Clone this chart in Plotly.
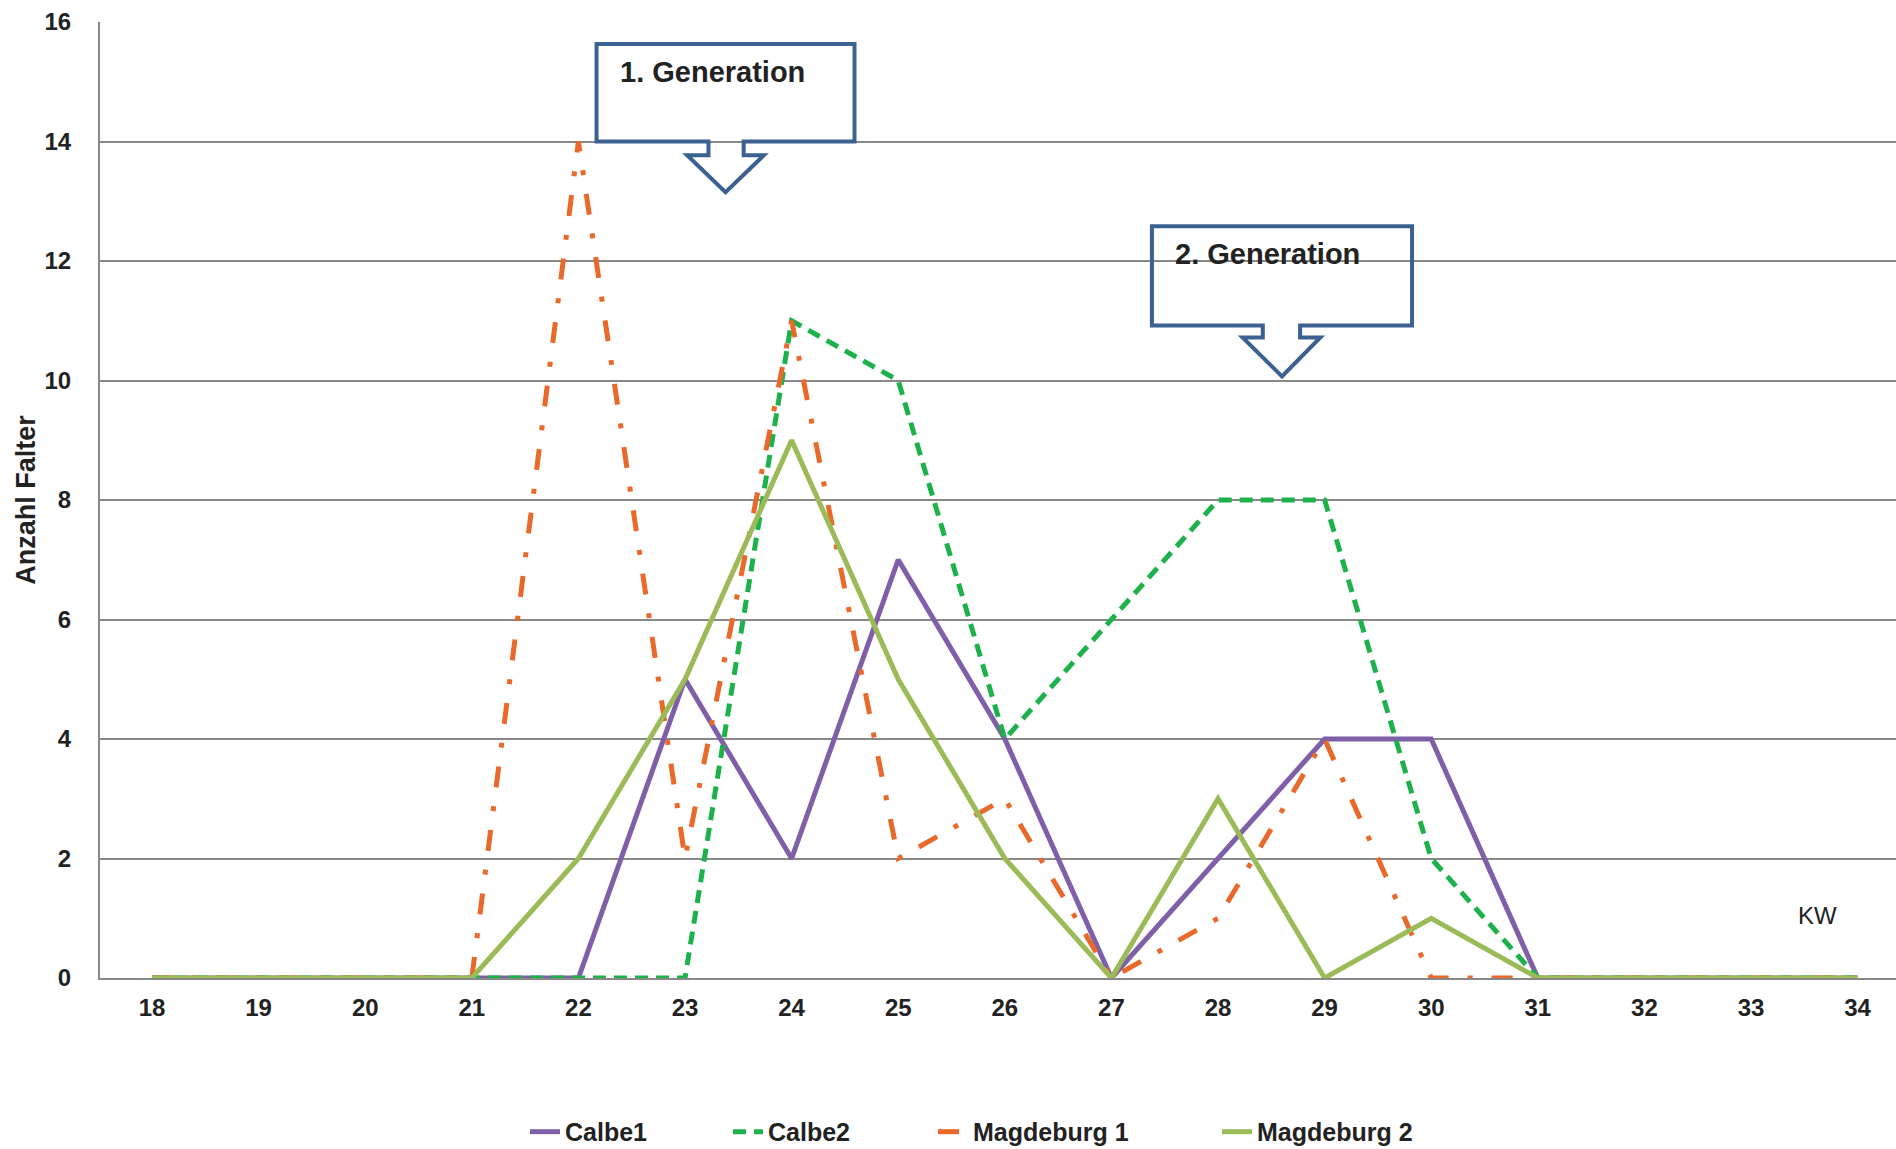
import plotly.graph_objects as go

weeks = list(range(18, 35))
calbe1 = [0, 0, 0, 0, 0, 5, 2, 7, 4, 0, 2, 4, 4, 0, 0, 0, 0]
calbe2 = [0, 0, 0, 0, 0, 0, 11, 10, 4, 6, 8, 8, 2, 0, 0, 0, 0]
magdeburg1 = [0, 0, 0, 0, 14, 2, 11, 2, 3, 0, 1, 4, 0, 0, 0, 0, 0]
magdeburg2 = [0, 0, 0, 0, 2, 5, 9, 5, 2, 0, 3, 0, 1, 0, 0, 0, 0]
y_ticks = [0, 2, 4, 6, 8, 10, 12, 14, 16]

FONT = "Liberation Sans, Arial, sans-serif"

series = [
    ("Calbe1", calbe1, "#7F5FA8", "solid", 158),
    ("Calbe2", calbe2, "#1DB14B", "13px,8px", 160),
    ("Magdeburg 1", magdeburg1, "#E8692A", "21px,19px,5px,19px", 239),
    ("Magdeburg 2", magdeburg2, "#9BBB59", "solid", 160),
]

fig = go.Figure()
for name, vals, color, dash, lw in series:
    fig.add_trace(go.Scatter(
        x=weeks, y=vals, name=name, mode="lines",
        line=dict(color=color, width=5, dash=dash),
        legendwidth=lw,
    ))


def callout(x0, x1, y_top, y_bot, sx0, sx1, sy, hx0, hx1, tipx, tipy):
    pts = [(x0, y_top), (x1, y_top), (x1, y_bot), (sx1, y_bot), (sx1, sy),
           (hx1, sy), (tipx, tipy), (hx0, sy), (sx0, sy), (sx0, y_bot), (x0, y_bot)]
    path = "M " + " L ".join(f"{px},{py}" for px, py in pts) + " Z"
    return dict(type="path", path=path, xref="x", yref="y",
                line=dict(color="#3A6190", width=4), fillcolor="rgba(0,0,0,0)",
                layer="above")


shapes = [
    callout(22.17, 24.59, 15.63, 14.00, 23.22, 23.55, 13.77, 23.02, 23.74, 23.38, 13.15),
    callout(27.38, 29.82, 12.58, 10.92, 28.42, 28.77, 10.72, 28.23, 28.96, 28.60, 10.07),
]

annotations = [
    dict(x=22.37, y=15.16, xref="x", yref="y", text="<b>1. Generation</b>",
         showarrow=False, xanchor="left", yanchor="middle",
         font=dict(family=FONT, size=29, color="#222222")),
    dict(x=27.58, y=12.11, xref="x", yref="y", text="<b>2. Generation</b>",
         showarrow=False, xanchor="left", yanchor="middle",
         font=dict(family=FONT, size=29, color="#222222")),
    dict(x=33.62, y=1.04, xref="x", yref="y", text="KW",
         showarrow=False, xanchor="center", yanchor="middle",
         font=dict(family=FONT, size=24, color="#222222")),
]

fig.update_layout(
    width=1896, height=1149,
    margin=dict(l=100, r=0, t=22, b=171, autoexpand=False),
    paper_bgcolor="white", plot_bgcolor="white",
    font=dict(family=FONT, color="#222222"),
    showlegend=True,
    legend=dict(orientation="h", x=(525 - 100) / 1796, xanchor="left", y=-0.161, yanchor="middle",
                font=dict(family=FONT, size=25, color="#222222", weight="bold"),
                tracegroupgap=0),
    shapes=shapes, annotations=annotations,
    xaxis=dict(range=[17.512, 34.36], tickvals=weeks, ticktext=[str(w) for w in weeks],
               showgrid=False, zeroline=False, showline=True, linecolor="#888888", linewidth=2,
               tickfont=dict(family=FONT, size=24, color="#222222", weight="bold"),
               ticklabelstandoff=7),
    yaxis=dict(range=[0, 16], tickvals=y_ticks, showgrid=True, gridcolor="#888888", gridwidth=2,
               zeroline=False, showline=True, linecolor="#888888", linewidth=2,
               tickfont=dict(family=FONT, size=24, color="#222222", weight="bold"),
               ticklabelstandoff=22,
               title=dict(text="Anzahl Falter", standoff=1,
                          font=dict(family=FONT, size=27, color="#222222", weight="bold"))),
)

fig.write_html(
    "out.html",
    config={"displayModeBar": False},
    post_script="document.body.style.margin='0';document.body.style.overflow='hidden';",
)
